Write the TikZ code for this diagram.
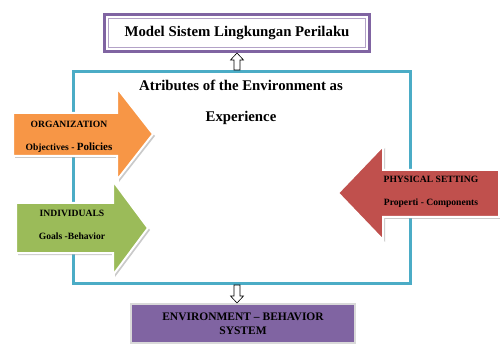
\documentclass[tikz,border=0pt]{standalone}
\usepackage{fontspec}
\setmainfont{Liberation Serif}
\usetikzlibrary{positioning}
\usetikzlibrary{shadows}
\definecolor{framecyan}{HTML}{4BACC6}
\definecolor{boxpurple}{HTML}{8064A2}
\definecolor{lightpurple}{HTML}{B3A2C7}
\definecolor{orgorange}{HTML}{F79646}
\definecolor{indgreen}{HTML}{9BBB59}
\definecolor{physred}{HTML}{C0504D}
\tikzset{node distance=12pt,
    model box/.style={
        draw=boxpurple,
        line width=3pt,
        fill=white,
        minimum width=265pt,
        minimum height=37pt,
        font=\fontsize{14.8}{16}\selectfont\bfseries},
    frame box/.style={
        draw=framecyan,
        line width=3pt,
        minimum width=337pt,
        minimum height=212pt},
    system box/.style={
        draw=black!15,
        line width=2pt,
        fill=boxpurple,
        minimum width=224pt,
        minimum height=39pt,
        align=center,
        font=\fontsize{11.5}{13.5}\selectfont\bfseries},
    block arrow/.style={
        draw=white,
        line width=2pt,
        drop shadow={shadow xshift=2pt,shadow yshift=-2pt,
            fill=black!35,opacity=.6}},
    arrow label/.style={
        align=center,
        font=\fontsize{9.6}{11}\selectfont\bfseries},
    hollow arrow/.style={
        draw=black,
        line width=.6pt,
        fill=white}}

\begin{document}
\begin{tikzpicture}[x=1pt,y=-1pt]
        \useasboundingbox (0,0) rectangle (500,347);
        \node[frame box] (frame) at (242,177.5) {};
        \node[model box] (model) at (237,33) {Model Sistem Lingkungan Perilaku};
        \draw[lightpurple,line width=1.2pt] ([shift={(5.5pt,-5.5pt)}]model.north west)
            rectangle ([shift={(-5.5pt,5.5pt)}]model.south east);
        \node[system box] (ebs) at (243,323.5) {ENVIRONMENT -- BEHAVIOR\\SYSTEM};

        \node[font=\fontsize{14.8}{16}\selectfont\bfseries] (attr) at (241,85)
            {Atributes of the Environment as};
        \node[font=\fontsize{14.8}{16}\selectfont\bfseries,below=14pt of attr] (exp)
            {Experience};

        % block arrows
        \draw[block arrow,fill=indgreen] (16,203) -- (113,203) -- (113,181)
            -- (148,228) -- (113,275) -- (113,253) -- (16,253) -- cycle;
        \draw[block arrow,fill=orgorange] (13,113) -- (117,113) -- (117,88)
            -- (153,134) -- (117,180) -- (117,156) -- (13,156) -- cycle;
        \draw[block arrow,fill=physred] (499,170) -- (383,170) -- (383,146)
            -- (338,193) -- (383,240) -- (383,217) -- (499,217) -- cycle;

        \node[arrow label] (org) at (69,136.5)
            {ORGANIZATION\\[12pt]Objectives - {\fontsize{11}{11}\selectfont Policies}};
        \node[arrow label] (ind) at (72,225) {INDIVIDUALS\\[12pt]Goals -Behavior};
        \node[arrow label] (phys) at (431,191.5) {PHYSICAL SETTING\\[12pt]Properti - Components};

        % hollow connectors
        \coordinate (upfoot) at (model.south |- frame.north);
        \draw[hollow arrow] (upfoot) ++(-3pt,0) -- ++(0,10pt) -- ++(-3.5pt,0)
            -- ++(6.5pt,7pt) -- ++(6.5pt,-7pt) -- ++(-3.5pt,0) -- ++(0,-10pt) -- cycle;
        \coordinate (downtop) at (model.south |- frame.south);
        \draw[hollow arrow] (downtop) ++(-3pt,0) -- ++(0,-11pt) -- ++(-3.5pt,0)
            -- ++(6.5pt,-7pt) -- ++(6.5pt,7pt) -- ++(-3.5pt,0) -- ++(0,11pt) -- cycle;
    \end{tikzpicture}
\end{document}
